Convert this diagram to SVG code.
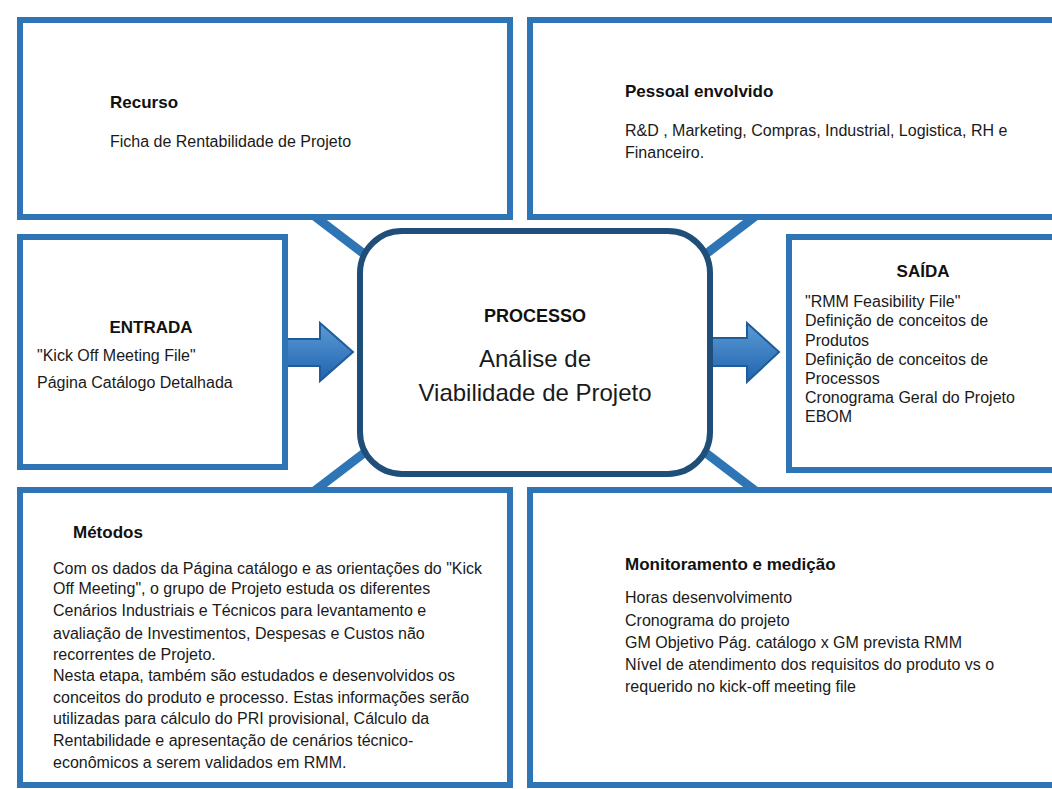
<svg xmlns="http://www.w3.org/2000/svg" width="1052" height="789" viewBox="0 0 1052 789">
<defs>
<style>
.box{fill:#ffffff;stroke:#2E75B6;stroke-width:6}
.core{fill:#ffffff;stroke:#1F4E79;stroke-width:6}
.t{font-family:"Liberation Sans",Arial,sans-serif;font-size:16px;fill:#1a1a1a}
.h{font-family:"Liberation Sans",Arial,sans-serif;font-size:17px;font-weight:bold;fill:#111111}
.c{text-anchor:middle}
.link{stroke:#2E75B6;stroke-width:9;stroke-linecap:butt;fill:none}
.arrow{fill:url(#ag);stroke:#1F5C99;stroke-width:2;stroke-linejoin:miter}
</style>
<linearGradient id="ag" x1="0" y1="0" x2="0" y2="1">
<stop offset="0" stop-color="#5B9BD5"/>
<stop offset="1" stop-color="#1F63AE"/>
</linearGradient>
</defs>
<rect width="1052" height="789" fill="#ffffff"/>
<g id="connectors">
<line class="link" x1="313" y1="215" x2="372" y2="260"/>
<line class="link" x1="757" y1="215" x2="698" y2="260"/>
<line class="link" x1="313" y1="492" x2="372" y2="447"/>
<line class="link" x1="757" y1="492" x2="698" y2="447"/>
<polygon class="arrow" points="287,339 320,339 320,323 353,352 320,381 320,366 287,366"/>
<polygon class="arrow" points="710,338 747,338 747,323 779,352 747,382 747,366 710,366"/>
</g>
<g id="recurso">
<rect class="box" x="20" y="20" width="490" height="197"/>
<text class="h" x="110" y="108">Recurso</text>
<text class="t" x="110" y="147">Ficha de Rentabilidade de Projeto</text>
</g>
<g id="pessoal">
<rect class="box" x="530" y="20" width="540" height="197"/>
<text class="h" x="625" y="97">Pessoal envolvido</text>
<text class="t" x="625" y="136">R&amp;D , Marketing, Compras, Industrial, Logistica, RH e</text>
<text class="t" x="625" y="158">Financeiro.</text>
</g>
<g id="entrada">
<rect class="box" x="20" y="237" width="265" height="230"/>
<text class="h c" x="151" y="333">ENTRADA</text>
<text class="t" x="37" y="361">"Kick Off Meeting File"</text>
<text class="t" x="37" y="388">Página Catálogo Detalhada</text>
</g>
<g id="processo">
<rect class="core" x="360" y="231" width="350" height="243" rx="42" ry="42"/>
<text class="h c" x="535" y="322" style="font-size:18px">PROCESSO</text>
<text class="t c" x="535" y="367" style="font-size:24px">Análise de</text>
<text class="t c" x="535" y="401" style="font-size:24px">Viabilidade de Projeto</text>
</g>
<g id="saida">
<rect class="box" x="789" y="237" width="281" height="233"/>
<text class="h c" x="923" y="277">SAÍDA</text>
<text class="t" x="805" y="307">"RMM Feasibility File"</text>
<text class="t" x="805" y="326">Definição de conceitos de</text>
<text class="t" x="805" y="346">Produtos</text>
<text class="t" x="805" y="365">Definição de conceitos de</text>
<text class="t" x="805" y="384">Processos</text>
<text class="t" x="805" y="403">Cronograma Geral do Projeto</text>
<text class="t" x="805" y="422">EBOM</text>
</g>
<g id="metodos">
<rect class="box" x="20" y="490" width="490" height="295"/>
<text class="h" x="73" y="538">Métodos</text>
<text class="t" x="53" y="574">Com os dados da Página catálogo e as orientações do "Kick</text>
<text class="t" x="53" y="594">Off Meeting", o grupo de Projeto estuda os diferentes</text>
<text class="t" x="53" y="616">Cenários Industriais e Técnicos para levantamento e</text>
<text class="t" x="53" y="639">avaliação de Investimentos, Despesas e Custos não</text>
<text class="t" x="53" y="660">recorrentes de Projeto.</text>
<text class="t" x="53" y="681">Nesta etapa, também  são estudados e desenvolvidos os</text>
<text class="t" x="53" y="703">conceitos do produto e processo. Estas informações serão</text>
<text class="t" x="53" y="724">utilizadas para cálculo do PRI provisional, Cálculo da</text>
<text class="t" x="53" y="746">Rentabilidade e apresentação de cenários técnico-</text>
<text class="t" x="53" y="768">econômicos a serem validados em RMM.</text>
</g>
<g id="monitoramento">
<rect class="box" x="530" y="490" width="540" height="295"/>
<text class="h" x="625" y="570">Monitoramento e medição</text>
<text class="t" x="625" y="603">Horas desenvolvimento</text>
<text class="t" x="625" y="626">Cronograma do projeto</text>
<text class="t" x="625" y="648">GM Objetivo Pág. catálogo  x GM prevista RMM</text>
<text class="t" x="625" y="670">Nível de atendimento dos requisitos do produto vs o</text>
<text class="t" x="625" y="692">requerido no kick-off meeting file</text>
</g>
</svg>
